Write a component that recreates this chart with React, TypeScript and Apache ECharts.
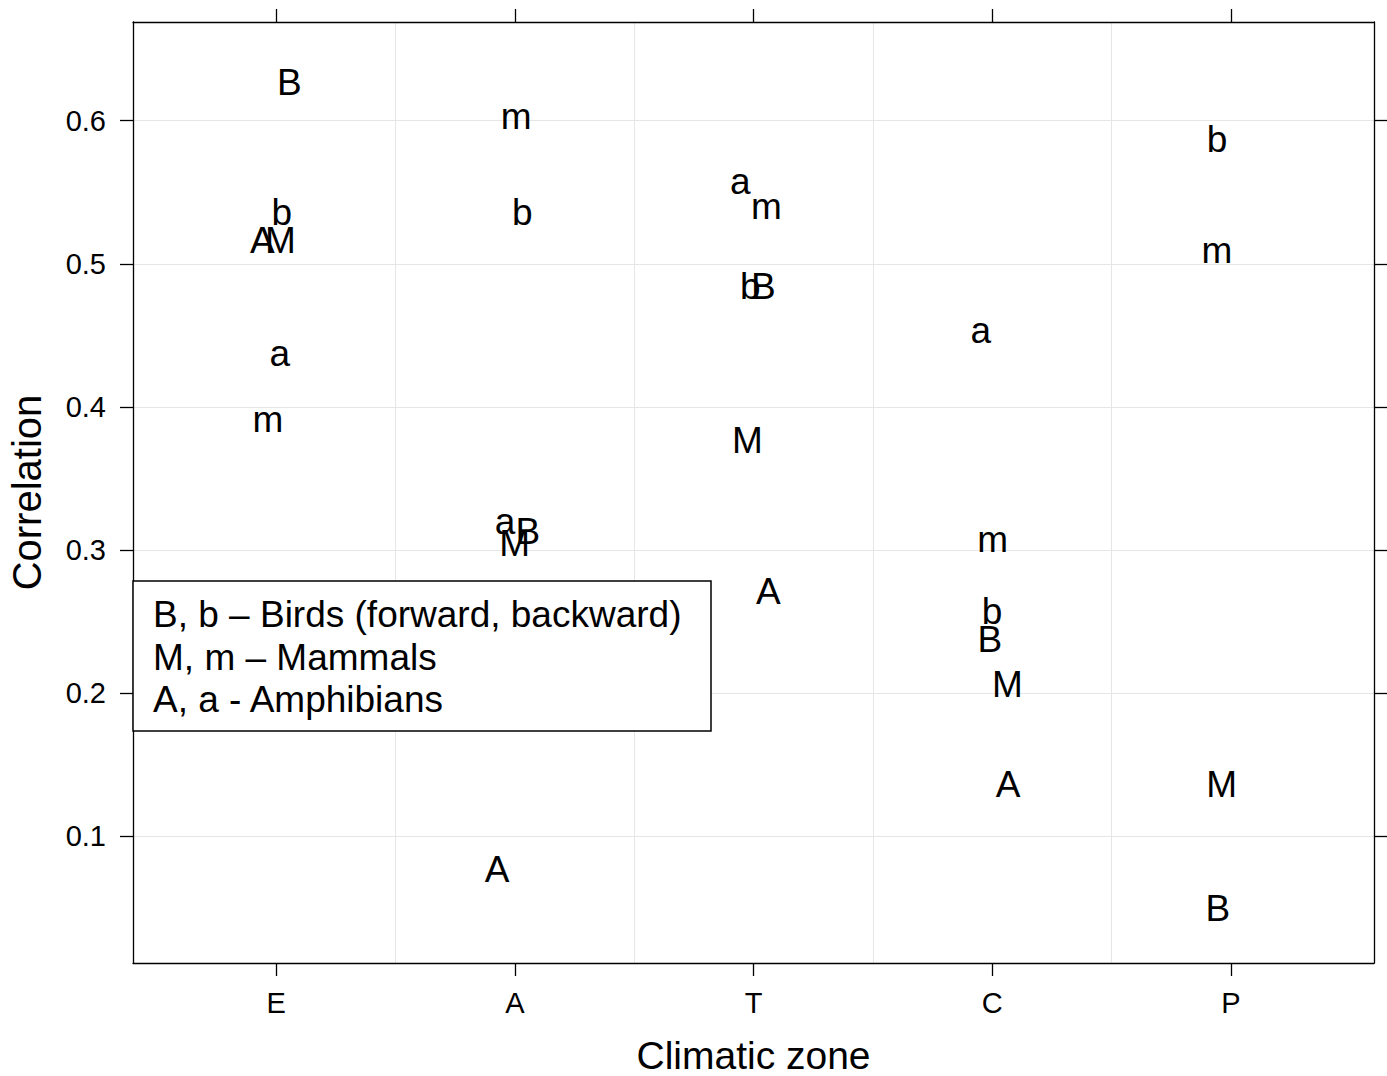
import React, { useEffect, useRef } from 'react';
import * as echarts from 'echarts';

const zones = ['E', 'A', 'T', 'C', 'P'];
const zonePositions = [1, 2, 3, 4, 5];
const yTicks = [0.1, 0.2, 0.3, 0.4, 0.5, 0.6];
const zoneBreaks = [1.5, 2.5, 3.5, 4.5];

// Correlation per climatic zone (null = not plotted)
const birdsForward = [0.6265, 0.3125, 0.4838, 0.237, 0.0491]; // B
const birdsBackward = [0.5361, 0.5357, 0.4838, 0.2566, 0.5872]; // b
const mammalsForward = [0.5164, 0.3041, 0.3762, 0.2062, 0.1357]; // M
const mammalsBackward = [0.391, 0.6026, 0.5397, 0.307, 0.509]; // m
const amphibiansForward = [0.5164, 0.0769, 0.2706, 0.1363, null]; // A
const amphibiansBackward = [0.437, 0.3198, 0.5576, 0.4531, null]; // a

// Horizontal jitter (in zone units)
const jitterB = [0.055, 0.054, 0.041, -0.01, -0.054];
const jitterb = [0.023, 0.031, -0.013, 0.0, -0.058];
const jitterM = [0.018, -0.001, -0.026, 0.064, -0.038];
const jitterm = [-0.035, 0.006, 0.054, 0.002, -0.058];
const jitterA = [-0.058, -0.074, 0.062, 0.067, 0];
const jittera = [0.015, -0.041, -0.055, -0.048, 0];

const legendLines = [
  'B, b \u2013 Birds (forward, backward)',
  'M, m \u2013 Mammals',
  'A, a - Amphibians',
];

const FONT = '"Liberation Sans", Arial, Helvetica, sans-serif';

function makeSeries(letter: string, values: (number | null)[], jitter: number[]) {
  const data: number[][] = [];
  values.forEach((v, i) => {
    if (v !== null && v !== undefined) data.push([zonePositions[i] + jitter[i], v]);
  });
  return {
    type: 'scatter',
    name: letter,
    xAxisIndex: 0,
    yAxisIndex: 0,
    data,
    symbol: 'circle',
    symbolSize: 1,
    silent: true,
    itemStyle: { color: 'rgba(0,0,0,0)' },
    z: 5,
    label: {
      show: true,
      position: 'inside',
      formatter: letter,
      fontSize: 37,
      fontFamily: FONT,
      color: '#000',
      opacity: 1,
      textBorderWidth: 0,
    },
    emphasis: { disabled: true },
  };
}

export default function App() {
  const ref = useRef<HTMLDivElement>(null);
  useEffect(() => {
    if (!ref.current) return;
    const chart = echarts.init(ref.current, null, { renderer: 'svg' });
    const axisLineStyle = { color: '#000', width: 1.3 };
    const xMin = 0.4;
    const xMax = 5.6;
    const yMin = 0.0112;
    const yMax = 0.669;
    const option: any = {
      animation: false,
      backgroundColor: '#fff',
      grid: { left: 133, top: 22, right: 13, bottom: 113, containLabel: false, outerBoundsMode: 'none' },
      xAxis: [
        {
          type: 'value', min: xMin, max: xMax, position: 'bottom',
          axisLine: { show: true, onZero: false, lineStyle: axisLineStyle },
          axisTick: { show: true, customValues: zonePositions, length: 13, lineStyle: { color: '#000', width: 1.3 } },
          axisLabel: {
            show: true, customValues: zonePositions,
            formatter: (v: number) => zones[Math.round(v) - 1] ?? '',
            fontSize: 29, fontFamily: FONT, color: '#000', margin: 25,
          },
          splitLine: { show: false },
          name: 'Climatic zone', nameLocation: 'middle', nameGap: 73,
          nameTextStyle: { fontSize: 39, fontFamily: FONT, color: '#000', lineHeight: 39 },
        },
        {
          type: 'value', min: xMin, max: xMax, position: 'top',
          axisLine: { show: true, onZero: false, lineStyle: axisLineStyle },
          axisTick: { show: true, customValues: zonePositions, length: 13, lineStyle: { color: '#000', width: 1.3 } },
          axisLabel: { show: false },
          splitLine: { show: false },
        },
        {
          type: 'value', min: xMin, max: xMax, position: 'bottom',
          axisLine: { show: false },
          axisTick: { show: false, customValues: zoneBreaks },
          axisLabel: { show: false, customValues: zoneBreaks },
          splitLine: { show: true, lineStyle: { color: '#e6e6e6', width: 1 } },
        },
      ],
      yAxis: [
        {
          type: 'value', min: yMin, max: yMax, position: 'left',
          axisLine: { show: true, onZero: false, lineStyle: axisLineStyle },
          axisTick: { show: true, customValues: yTicks, length: 13, lineStyle: { color: '#000', width: 1.3 } },
          axisLabel: {
            show: true, customValues: yTicks,
            formatter: (v: number) => v.toFixed(1),
            fontSize: 29, fontFamily: FONT, color: '#000', margin: 27,
          },
          splitLine: { show: true, lineStyle: { color: '#e6e6e6', width: 1 } },
          name: 'Correlation', nameLocation: 'middle', nameGap: 86,
          nameTextStyle: { fontSize: 40, fontFamily: FONT, color: '#000' },
        },
        {
          type: 'value', min: yMin, max: yMax, position: 'right',
          axisLine: { show: true, onZero: false, lineStyle: axisLineStyle },
          axisTick: { show: true, customValues: yTicks, length: 13, lineStyle: { color: '#000', width: 1.3 } },
          axisLabel: { show: false },
          splitLine: { show: false },
        },
      ],
      series: [
        makeSeries('B', birdsForward, jitterB),
        makeSeries('b', birdsBackward, jitterb),
        makeSeries('M', mammalsForward, jitterM),
        makeSeries('m', mammalsBackward, jitterm),
        makeSeries('A', amphibiansForward, jitterA),
        makeSeries('a', amphibiansBackward, jittera),
      ],
      graphic: [
        {
          type: 'rect', z: 100,
          shape: { x: 133, y: 581, width: 578, height: 150 },
          style: { fill: '#fff', stroke: '#000', lineWidth: 1.5 },
        },
        ...legendLines.map((t, i) => ({
          type: 'text', z: 101,
          x: 153, y: 614.5 + i * 42.5,
          style: { text: t, fontSize: 37, fontFamily: FONT, fill: '#000', align: 'left', verticalAlign: 'middle' },
        })),
      ],
    };
    chart.setOption(option);
    return () => chart.dispose();
  }, []);
  return (
    <div
      ref={ref}
      style={{ position: 'absolute', left: 0, top: 0, width: 1387, height: 1076, background: '#fff' }}
    />
  );
}
